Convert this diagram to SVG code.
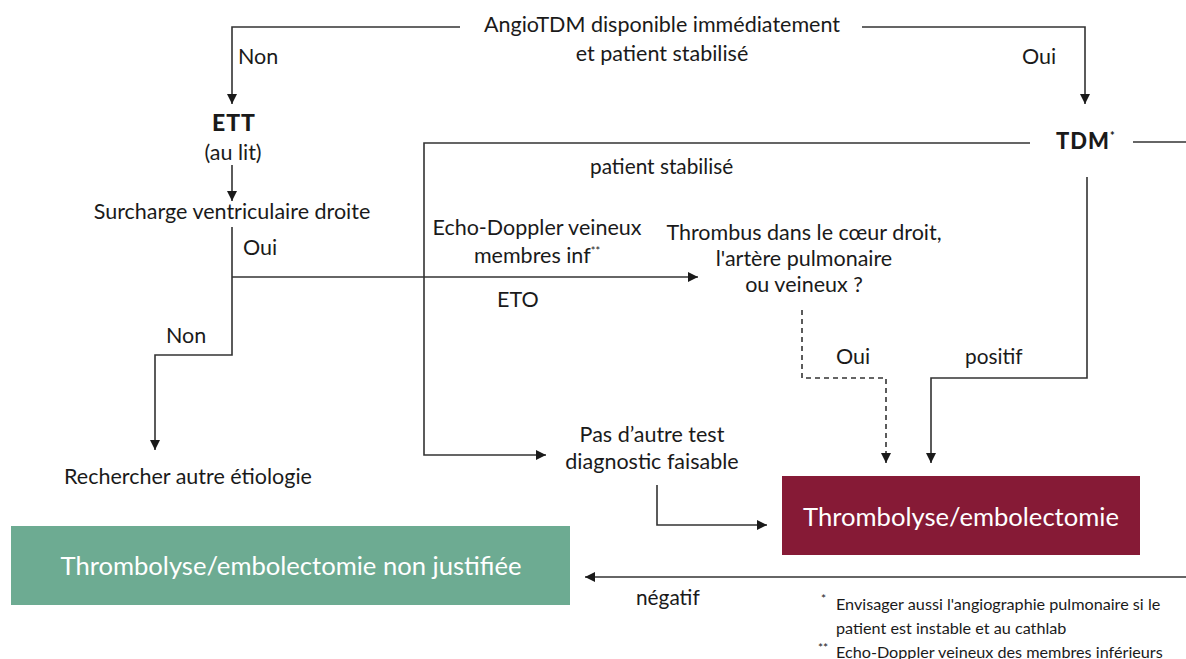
<svg xmlns="http://www.w3.org/2000/svg" width="1186" height="659" viewBox="0 0 1186 659">
<defs>
<marker id="ah" viewBox="0 0 10 10" refX="10" refY="5" markerWidth="10" markerHeight="10" markerUnits="userSpaceOnUse" orient="auto">
<path d="M0,0 L10,5 L0,10 z" fill="#1a1a1a"/>
</marker>
<style>
text{font-family:Lato,"Open Sans","Liberation Sans",sans-serif;fill:#1a1a1a;font-size:21.5px}
.s{font-size:20.8px}
.c{text-anchor:middle}
.b{font-weight:900;letter-spacing:1px}
.w{fill:#ffffff;font-size:25.6px}
.f{font-size:16.2px}
.ln{fill:none;stroke:#333;stroke-width:1.6}
.ar{fill:none;stroke:#333;stroke-width:1.6;marker-end:url(#ah)}
.da{stroke-dasharray:5,4}
</style>
</defs>
<rect width="1186" height="659" fill="#ffffff"/>
<g id="connectors">
<path class="ar" d="M460,27 H232 V104"/>
<path class="ar" d="M862,27 H1085 V104"/>
<path class="ar" d="M232,165 V201"/>
<path class="ar" d="M232,227 V355 H155 V450"/>
<path class="ar" d="M232,277 H698"/>
<path class="ar" d="M1030,143 H424 V455 H546"/>
<path class="ln" d="M1133,142 H1186"/>
<path class="ar" d="M1087,177 V378 H931 V463"/>
<path class="ar da" d="M802,310 V378 H886 V463"/>
<path class="ar" d="M657,485 V525 H767"/>
<path class="ar" d="M1186,577 H585"/>
</g>
<g id="labels">
<text x="238" y="64">Non</text>
<text x="1022" y="64">Oui</text>
<text x="243" y="255">Oui</text>
<text x="166" y="343">Non</text>
<text class="s" x="590" y="174">patient stabilisé</text>
<text x="836" y="364">Oui</text>
<text class="s" x="965" y="364">positif</text>
<text class="s" x="636" y="605">négatif</text>
</g>
<g id="n-angio">
<text class="c" x="662" y="32">AngioTDM disponible immédiatement</text>
<text class="c" x="662" y="61">et patient stabilisé</text>
</g>
<g id="n-ett">
<text class="c b" x="234" y="131" style="font-size:23px">ETT</text>
<text class="c" x="233" y="160">(au lit)</text>
</g>
<g id="n-surcharge">
<text class="c" x="232" y="219">Surcharge ventriculaire droite</text>
</g>
<g id="n-tdm">
<text x="1056" y="149" class="b" style="font-size:22px">TDM<tspan style="font-size:11px" dy="-9">*</tspan></text>
</g>
<g id="n-echo">
<text class="c" x="537" y="235">Echo-Doppler veineux</text>
<text class="c" x="537" y="263">membres inf<tspan style="font-size:11px" dy="-8">**</tspan></text>
<text x="497" y="307">ETO</text>
</g>
<g id="n-thrombus">
<text class="c" x="804" y="240">Thrombus dans le cœur droit,</text>
<text class="c" x="804" y="266">l'artère pulmonaire</text>
<text class="c" x="804" y="292">ou veineux ?</text>
</g>
<g id="n-pas">
<text class="c" x="652" y="442">Pas d’autre test</text>
<text class="c" x="652" y="469">diagnostic faisable</text>
</g>
<g id="n-rechercher">
<text class="c" x="188" y="484">Rechercher autre étiologie</text>
</g>
<g id="n-thrombolyse">
<rect x="782" y="476" width="358" height="79" fill="#861a36"/>
<text class="c w" x="961" y="526">Thrombolyse/embolectomie</text>
</g>
<g id="n-nonjust">
<rect x="11" y="526" width="559" height="79" fill="#6dab92"/>
<text class="c w" x="291" y="575">Thrombolyse/embolectomie non justifiée</text>
</g>
<g id="footnotes">
<text class="f" x="821" y="603" style="font-size:12px">*</text>
<text class="f" x="836" y="610">Envisager aussi l'angiographie pulmonaire si le</text>
<text class="f" x="836" y="634">patient est instable et au cathlab</text>
<text class="f" x="818" y="652" style="font-size:12px">**</text>
<text class="f" x="836" y="658">Echo-Doppler veineux des membres inférieurs</text>
</g>
</svg>
